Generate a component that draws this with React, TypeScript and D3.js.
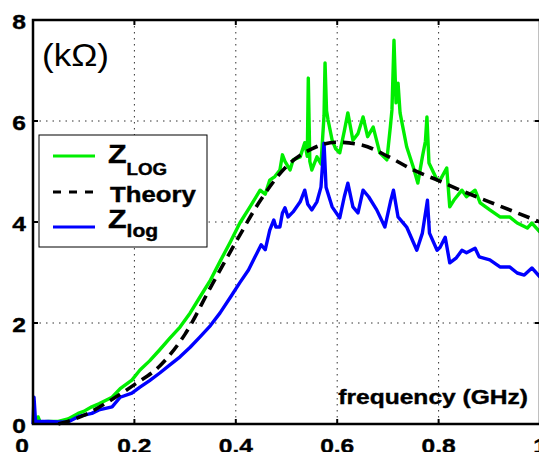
import React from "react";
import * as d3 from "d3";

const xTicks = [0, 0.2, 0.4, 0.6, 0.8, 1];
const xTickLabels = ["0", "0.2", "0.4", "0.6", "0.8", "1"];
const yTicks = [0, 2, 4, 6, 8];
const yTickLabels = ["0", "2", "4", "6", "8"];
const gridX = [0.2, 0.4, 0.6, 0.8];
const gridY = [2, 4, 6];

// Z_LOG (green)
const zLOG: [number, number][] = [
  [0, 0.02], [0.006, 0.02], [0.01, 0.14], [0.014, 0.04], [0.03, 0.05], [0.05, 0.05],
  [0.069, 0.1], [0.08, 0.16], [0.089, 0.21], [0.1, 0.25], [0.116, 0.34], [0.13, 0.4],
  [0.156, 0.53], [0.172, 0.7], [0.195, 0.87], [0.211, 1.07], [0.23, 1.25], [0.25, 1.47],
  [0.27, 1.7], [0.29, 1.92], [0.31, 2.2], [0.329, 2.51], [0.35, 2.85], [0.369, 3.22],
  [0.39, 3.62], [0.408, 3.98], [0.428, 4.3], [0.448, 4.63], [0.458, 4.55], [0.467, 4.83],
  [0.477, 4.9], [0.487, 5.03], [0.492, 5.33], [0.497, 5.2], [0.507, 5.03], [0.513, 5.23],
  [0.527, 5.29], [0.536, 5.57], [0.541, 5.3], [0.543, 6.85], [0.546, 5.2], [0.55, 5.03],
  [0.56, 5.29], [0.568, 5.15], [0.574, 6.1], [0.576, 7.15], [0.579, 6.2], [0.582, 6.02],
  [0.59, 5.62], [0.597, 5.45], [0.605, 5.37], [0.614, 5.8], [0.621, 6.16], [0.631, 5.62],
  [0.641, 5.75], [0.651, 6.08], [0.66, 5.69], [0.671, 5.88], [0.684, 5.37], [0.698, 5.23],
  [0.705, 5.9], [0.708, 6.22], [0.712, 7.6], [0.716, 6.36], [0.72, 6.75], [0.724, 6.16],
  [0.737, 5.49], [0.75, 5.09], [0.759, 4.77], [0.768, 5.29], [0.774, 5.6], [0.777, 6.08],
  [0.781, 5.17], [0.797, 4.83], [0.803, 4.83], [0.816, 5.07], [0.822, 4.3], [0.83, 4.43],
  [0.846, 4.63], [0.855, 4.5], [0.872, 4.63], [0.882, 4.38], [0.901, 4.24], [0.921, 4.1],
  [0.94, 4.1], [0.955, 3.98], [0.975, 3.88], [0.984, 3.98], [1.0, 3.8],
];

// Theory (dashed)
const theory: [number, number][] = [
  [0.05, 0], [0.1, 0.17], [0.15, 0.45], [0.2, 0.78], [0.25, 1.15], [0.3, 1.78],
  [0.35, 2.7], [0.4, 3.6], [0.45, 4.45], [0.5, 5.1], [0.55, 5.45], [0.6, 5.58],
  [0.65, 5.52], [0.7, 5.3], [0.75, 5.03], [0.8, 4.82], [0.85, 4.6], [0.9, 4.4],
  [0.95, 4.2], [1.0, 4.0],
];

// Z_log (blue)
const zlog: [number, number][] = [
  [0, 0], [0.002, 0.53], [0.005, 0.05], [0.03, 0.05], [0.05, 0.04], [0.069, 0.04],
  [0.09, 0.15], [0.116, 0.21], [0.13, 0.28], [0.156, 0.34], [0.172, 0.53], [0.195, 0.61],
  [0.211, 0.73], [0.23, 0.86], [0.25, 1.01], [0.27, 1.17], [0.29, 1.33], [0.31, 1.52],
  [0.329, 1.72], [0.35, 1.95], [0.369, 2.2], [0.39, 2.52], [0.408, 2.8], [0.425, 3.05],
  [0.438, 3.31], [0.45, 3.55], [0.458, 3.45], [0.467, 3.84], [0.475, 4.04], [0.479, 3.9],
  [0.487, 3.9], [0.492, 4.18], [0.497, 4.28], [0.503, 4.1], [0.513, 4.2], [0.527, 4.4],
  [0.536, 4.63], [0.542, 4.35], [0.55, 4.24], [0.56, 4.4], [0.568, 4.69], [0.574, 5.56],
  [0.578, 4.69], [0.59, 4.3], [0.605, 4.08], [0.614, 4.5], [0.621, 4.77], [0.631, 4.3],
  [0.641, 4.18], [0.651, 4.63], [0.662, 4.5], [0.678, 4.24], [0.694, 3.9], [0.705, 4.4],
  [0.711, 4.63], [0.72, 4.1], [0.737, 3.9], [0.757, 3.44], [0.768, 3.78], [0.778, 4.43],
  [0.782, 3.78], [0.797, 3.44], [0.803, 3.5], [0.813, 3.7], [0.822, 3.19], [0.835, 3.29],
  [0.846, 3.44], [0.855, 3.39], [0.872, 3.48], [0.88, 3.31], [0.901, 3.25], [0.921, 3.11],
  [0.94, 3.11], [0.955, 2.99], [0.969, 2.95], [0.984, 3.09], [1.0, 2.91],
];

const W = 539;
const H = 452;
const M = { left: 33, right: 540, top: 20, bottom: 424 };
const FONT = "'Liberation Sans', Arial, Helvetica, sans-serif";
const SX = 1.17;

function STxt(props: {
  x: number; y: number; size: number; anchor?: string; weight?: string; children: React.ReactNode; sx?: number;
}) {
  const { x, y, size, anchor = "start", weight = "bold", children, sx = SX } = props;
  return (
    <text
      transform={`translate(${x},${y}) scale(${sx},1)`}
      textAnchor={anchor}
      fontFamily={FONT}
      fontWeight={weight}
      fontSize={size}
      fill="#000"
      stroke={weight === "bold" ? "#000" : "none"}
      strokeWidth={weight === "bold" ? 0.4 : 0}
    >
      {children}
    </text>
  );
}

export default function App() {
  const x = d3.scaleLinear().domain([0, 1]).range([M.left, M.right]);
  const y = d3.scaleLinear().domain([0, 8]).range([M.bottom, M.top]);
  const line = d3
    .line<[number, number]>()
    .x((d) => x(d[0]))
    .y((d) => y(d[1]));
  const smooth = d3
    .line<[number, number]>()
    .x((d) => x(d[0]))
    .y((d) => y(d[1]))
    .curve(d3.curveMonotoneX);

  const legX = 39, legY = 135, legW = 168, legH = 112;

  return (
    <svg width={W} height={H} style={{ position: "absolute", left: 0, top: 0 }}>
      <rect width={W} height={H} fill="#fff" />
      {/* grid */}
      {gridX.map((v) => (
        <line key={"gx" + v} x1={x(v)} x2={x(v)} y1={M.top} y2={M.bottom}
          stroke="#333" strokeWidth={1} strokeDasharray="1.5,4.5" />
      ))}
      {gridY.map((v) => (
        <line key={"gy" + v} x1={M.left} x2={M.right} y1={y(v)} y2={y(v)}
          stroke="#333" strokeWidth={1} strokeDasharray="1.5,5" />
      ))}
      {/* ticks */}
      {gridX.map((v) => (
        <g key={"tx" + v}>
          <line x1={x(v)} x2={x(v)} y1={M.bottom} y2={M.bottom - 5} stroke="#000" strokeWidth={2} />
          <line x1={x(v)} x2={x(v)} y1={M.top} y2={M.top + 5} stroke="#000" strokeWidth={2} />
        </g>
      ))}
      {gridY.map((v) => (
        <g key={"ty" + v}>
          <line x1={M.left} x2={M.left + 5} y1={y(v)} y2={y(v)} stroke="#000" strokeWidth={2} />
          <line x1={M.right} x2={M.right - 5} y1={y(v)} y2={y(v)} stroke="#000" strokeWidth={2} />
        </g>
      ))}
      {/* data */}
      <path d={line(zLOG) || ""} fill="none" stroke="#00ee00" strokeWidth={3.4} strokeLinejoin="round" />
      <path d={line(zlog) || ""} fill="none" stroke="#0000ff" strokeWidth={3.4} strokeLinejoin="round" />
      <path d={smooth(theory) || ""} fill="none" stroke="#000" strokeWidth={3.6} strokeDasharray="12,7" />
      {/* spines */}
      <rect x={M.left} y={M.top} width={M.right - M.left} height={M.bottom - M.top}
        fill="none" stroke="#000" strokeWidth={2.5} />
      {/* tick labels */}
      {yTicks.map((v, i) => (
        <STxt key={"yl" + v} x={M.left - 7} y={y(v) + 8.5} size={21} anchor="end">
          {yTickLabels[i]}
        </STxt>
      ))}
      {xTicks.map((v, i) => (
        <STxt key={"xl" + v} x={v === 0 ? x(v) - 11 : x(v)} y={453} size={21} anchor="middle">
          {xTickLabels[i]}
        </STxt>
      ))}
      {/* unit label */}
      <STxt x={42} y={66} size={31} weight="normal" sx={1.13}>(kΩ)</STxt>
      {/* x axis title */}
      <STxt x={528} y={404} size={21} anchor="end">frequency (GHz)</STxt>
      {/* legend */}
      <rect x={legX} y={legY} width={legW} height={legH} fill="#fff" stroke="#000" strokeWidth={1} />
      <line x1={53} x2={95} y1={156} y2={156} stroke="#00ee00" strokeWidth={3} />
      <line x1={53} x2={95} y1={192} y2={192} stroke="#000" strokeWidth={3} strokeDasharray="8,8" />
      <line x1={53} x2={95} y1={227} y2={227} stroke="#0000ff" strokeWidth={3} />
      <text transform={`translate(108,163) scale(${SX},1)`} fontFamily={FONT} fontWeight="bold" fontSize={26}
        stroke="#000" strokeWidth={0.4}>
        Z<tspan fontSize={16} dy={12}>LOG</tspan>
      </text>
      <STxt x={110} y={202} size={22}>Theory</STxt>
      <text transform={`translate(108,228) scale(${SX},1)`} fontFamily={FONT} fontWeight="bold" fontSize={26}
        stroke="#000" strokeWidth={0.4}>
        Z<tspan fontSize={18} dy={9}>log</tspan>
      </text>
    </svg>
  );
}
